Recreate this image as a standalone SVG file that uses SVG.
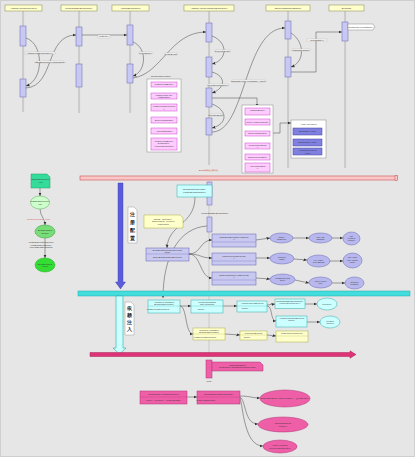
<svg xmlns="http://www.w3.org/2000/svg" width="415" height="457" viewBox="0 0 415 457">
<defs>
<style>
text{font-family:"Liberation Sans",Arial,sans-serif;font-size:2.2px;fill:#333;text-anchor:middle}
.hdr{fill:#ffffcc;stroke:#999966;stroke-width:0.6}
.ll{stroke:#a0a0a0;stroke-width:0.4;fill:none}
.act{fill:#c8c8f4;stroke:#6666aa;stroke-width:0.5}
.cn{fill:none;stroke:#444;stroke-width:0.5;marker-end:url(#ah)}
.lb{fill:#f8f8f8;stroke:#aaa;stroke-width:0.3}
.cont{fill:#fff;stroke:#888;stroke-width:0.5}
.pk{fill:#ffccff;stroke:#cc44cc;stroke-width:0.5}
.bl{fill:#8080e0;stroke:#4040a0;stroke-width:0.5}
.lil{fill:#c8c8f0;stroke:#6060b0;stroke-width:0.5}
.ell{fill:#b8b8ee;stroke:#6464b4;stroke-width:0.5}
.cy{fill:#ccffff;stroke:#33aaaa;stroke-width:0.5}
.yl{fill:#ffffcc;stroke:#aaaa44;stroke-width:0.5}
.mg{fill:#ee5fa8;stroke:#b03070;stroke-width:0.5}
.note{fill:#fff;stroke:#999;stroke-width:0.5}
.vt{font-size:5px;fill:#222;font-weight:bold}
</style>
<marker id="ah" markerWidth="4" markerHeight="4" refX="3.5" refY="2" orient="auto" markerUnits="userSpaceOnUse"><path d="M0,0.5 L3.5,2 L0,3.5 Z" fill="#333"/></marker>
</defs>
<rect x="0" y="0" width="415" height="457" fill="#e6e6e6"/>
<rect x="0.5" y="0.5" width="414" height="456" fill="none" stroke="#cfcfcf" stroke-width="1"/>

<!-- lifelines -->
<g id="lifelines">
<path class="ll" d="M22.6,11V112M23.6,11V112M78.6,11V113M79.6,11V113M129.6,11V113M130.6,11V113M208.6,11V165M209.6,11V165M287.6,11V168M288.6,11V168M344.6,11V168M345.6,11V168"/>
<path class="ll" d="M209,181V353"/>
</g>

<g id="h1"><rect class="hdr" x="5" y="5" width="37" height="6"/><text x="23.5" y="8.8">AbstractApplicationContext</text></g>
<g id="h2"><rect class="hdr" x="61" y="5" width="36" height="6"/><text x="79" y="8.8">DefaultListableBeanFactory</text></g>
<g id="h3"><rect class="hdr" x="112" y="5" width="37" height="6"/><text x="130.5" y="8.8">AbstractBeanFactory</text></g>
<g id="h4"><rect class="hdr" x="184" y="5" width="50" height="6"/><text x="209" y="8.8">AbstractAutowireCapableBeanFactory</text></g>
<g id="h5"><rect class="hdr" x="266" y="5" width="44" height="6"/><text x="288" y="8.8">SimpleInstantiationStrategy</text></g>
<g id="h6"><rect class="hdr" x="329" y="5" width="35" height="6"/><text x="346.5" y="8.8">BeanUtils</text></g>

<g id="activations">
<rect class="act" x="20" y="26" width="6" height="20"/>
<rect class="act" x="20" y="79" width="6" height="18"/>
<rect class="act" x="76" y="27" width="6" height="19"/>
<rect class="act" x="76" y="64" width="6" height="23"/>
<rect class="act" x="127" y="25" width="6" height="20"/>
<rect class="act" x="127" y="64" width="6" height="19"/>
<rect class="act" x="206" y="23" width="6" height="19"/>
<rect class="act" x="206" y="57" width="6" height="20"/>
<rect class="act" x="206" y="88" width="6" height="19"/>
<rect class="act" x="206" y="118" width="6" height="17"/>
<rect class="act" x="285" y="21" width="6" height="18"/>
<rect class="act" x="285" y="57" width="6" height="20"/>
<rect class="act" x="342" y="22" width="6" height="19"/>
<rect class="act" x="207" y="182" width="5" height="23"/>
<rect class="act" x="207" y="217" width="5" height="15"/>
</g>

<g id="connectors">
<path class="cn" d="M26,38 C44,44 44,80 26,86"/>
<path class="cn" d="M26,88 C55,86 45,35 76,35"/>
<path class="cn" d="M82,35 L127,35"/>
<path class="cn" d="M133,42 C148,48 146,72 133,76"/>
<path class="cn" d="M133,78 C162,74 170,32 206,32"/>
<path class="cn" d="M212,36 C228,42 228,60 212,64"/>
<path class="cn" d="M212,72 C226,76 226,88 212,93"/>
<path class="cn" d="M212,104 C228,110 228,124 212,128"/>
<path class="cn" d="M212,132 C246,132 244,28 285,28"/>
<path class="cn" d="M212,98 L257,98 L257,107"/>
<path class="cn" d="M291,33 C305,42 305,62 291,67"/>
<path class="cn" d="M291,72 L316,72 L316,32 L342,32"/>
<path class="cn" d="M273,133 L280,133 L280,123 L291,123"/>
<path class="cn" d="M40,188 L40,196"/>
<path class="cn" d="M40,209 C40,216 45,218 45,225"/>
<path class="cn" d="M45,238 L45,258"/>
<path class="cn" d="M195,197 C195,225 168,224 167,248"/>
<path class="cn" d="M207,226 C178,228 163,258 163,298"/>
<path class="cn" d="M189,254 C201,254 200,240 212,240"/>
<path class="cn" d="M189,254 C201,254 200,258 212,258"/>
<path class="cn" d="M189,254 C201,254 200,278 212,278"/>
<path class="cn" d="M256,240 L270,238"/>
<path class="cn" d="M293,238 L309,238"/>
<path class="cn" d="M332,238 L343,238"/>
<path class="cn" d="M256,258 L270,258"/>
<path class="cn" d="M294,259 L307,260"/>
<path class="cn" d="M330,261 L343,261"/>
<path class="cn" d="M256,278 L270,279"/>
<path class="cn" d="M295,280 L309,283"/>
<path class="cn" d="M332,283 L345,283"/>
<path class="cn" d="M180,306 L191,306"/>
<path class="cn" d="M180,306 C187,306 185,334 193,334"/>
<path class="cn" d="M223,306 L237,306"/>
<path class="cn" d="M225,334 L240,335"/>
<path class="cn" d="M267,305 L275,304"/>
<path class="cn" d="M267,306 C273,306 270,321 276,321"/>
<path class="cn" d="M305,304 L317,304"/>
<path class="cn" d="M307,322 L320,322"/>
<path class="cn" d="M267,335 L276,336"/>
<path class="cn" d="M187,397 L197,397"/>
<path class="cn" d="M240,396 C250,396 252,398 260,398"/>
<path class="cn" d="M240,397 C246,400 244,424 258,424"/>
<path class="cn" d="M240,398 C243,406 244,446 263,446"/>
</g>

<g id="labels">
<rect class="lb" x="25" y="52" width="30" height="2"/><text x="40" y="53.6">obtainFreshBeanFactory()</text>
<rect class="lb" x="37" y="61" width="26" height="2"/><text x="50" y="62.6">finishBeanFactoryInitialization()</text>
<rect class="lb" x="98" y="35" width="12" height="3"/><text x="104" y="37.2">getBean()</text>
<rect class="lb" x="139" y="52" width="13" height="2"/><text x="145.5" y="53.6">doGetBean()</text>
<rect class="lb" x="165" y="53" width="12" height="2"/><text x="171" y="54.6">createBean()</text>
<rect class="lb" x="215" y="50" width="15" height="2"/><text x="222.5" y="51.6">doCreateBean()</text>
<rect class="lb" x="208" y="84" width="20" height="2"/><text x="218" y="85.6">createBeanInstance()</text>
<rect class="lb" x="210" y="114" width="12" height="2"/><text x="216" y="115.6">populateBean()</text>
<rect class="lb" x="232" y="80" width="33" height="2"/><text x="248.5" y="81.6">instantiate(mbd, beanName, owner)</text>
<rect class="lb" x="292" y="49" width="18" height="2"/><text x="301" y="50.6">instantiateClass()</text>
<rect class="lb" x="307" y="39" width="20" height="2"/><text x="317" y="40.6">newInstance()</text>
</g>

<g id="ret"><path d="M348,24 L373,24 L375,27 L373,30 L348,30 Z" fill="#fff" stroke="#888" stroke-width="0.5"/><text x="361" y="27.8">Constructor.newInstance()</text></g>

<g id="boxA">
<text x="161" y="77">BeanPostProcessor</text>
<rect class="cont" x="147" y="79" width="34" height="73"/>
<rect class="pk" x="151" y="82" width="26" height="5"/><text x="164" y="85.3">postProcessBefore</text>
<rect class="pk" x="151" y="93" width="26" height="6"/><text x="164" y="95.6">postProcessAfter</text><text x="164" y="98">Instantiation</text>
<rect class="pk" x="151" y="104" width="26" height="7"/><text x="164" y="107">postProcessProperties</text><text x="164" y="109.5">()</text>
<rect class="pk" x="151" y="117" width="26" height="6"/><text x="164" y="120.8">BeforeInitialization</text>
<rect class="pk" x="151" y="128" width="26" height="6"/><text x="164" y="131.8">AfterInitialization</text>
<rect class="pk" x="151" y="138" width="26" height="12"/><text x="164" y="141.5">postProcessBefore</text><text x="164" y="144.2">Destruction ·</text><text x="164" y="146.9">requiresDestruction</text>
</g>

<g id="boxB">
<rect class="cont" x="242" y="105" width="31" height="68"/>
<rect class="pk" x="245" y="108" width="25" height="7"/><text x="257.5" y="111">initializeBean()</text><text x="257.5" y="113.5">·</text>
<rect class="pk" x="245" y="119" width="25" height="6"/><text x="257.5" y="122.8">invokeAwareMethods()</text>
<rect class="pk" x="245" y="131" width="25" height="5"/><text x="257.5" y="134.3">BeforeInitialization</text>
<rect class="pk" x="245" y="143" width="25" height="6"/><text x="257.5" y="145.6">invokeInitMethods</text><text x="257.5" y="148">()</text>
<rect class="pk" x="245" y="154" width="25" height="6"/><text x="257.5" y="157.8">afterPropertiesSet()</text>
<rect class="pk" x="245" y="163" width="25" height="9"/><text x="257.5" y="166.5">AfterInitialization</text><text x="257.5" y="169.2">()</text>
</g>

<g id="boxC">
<rect class="cont" x="291" y="120" width="35" height="38"/>
<text x="308.5" y="124.5">Aware interfaces</text>
<rect class="bl" x="293" y="128" width="29" height="7"/><text x="307.5" y="132.3">BeanNameAware</text>
<rect class="bl" x="293" y="139" width="29" height="7"/><text x="307.5" y="143.3">BeanFactoryAware</text>
<rect class="bl" x="293" y="148" width="29" height="7"/><text x="307.5" y="151">ApplicationContext</text><text x="307.5" y="153.5">Aware</text>
</g>

<g id="redband">
<rect x="80" y="176" width="317" height="4" fill="#f8c8c8" stroke="#d05050" stroke-width="0.6"/>
<rect x="395" y="175.5" width="2.5" height="5" fill="#f8c8c8" stroke="#d05050" stroke-width="0.5"/>
<text x="208.5" y="171" style="fill:#d03030">Bean实例化与初始化</text>
</g>

<g id="greenflow">
<path d="M31,174 L47,174 L50,177 L50,188 L31,188 Z" fill="#33dd99" stroke="#229966" stroke-width="0.5"/>
<text x="40.5" y="180">applicationContext</text><text x="40.5" y="182.6">.xml</text>
<ellipse cx="40" cy="202.5" rx="9.5" ry="6.5" fill="#ccffcc" stroke="#55aa55" stroke-width="0.5"/>
<text x="40" y="202">ClassPathResource</text><text x="40" y="204.6">xml</text>
<text x="38.5" y="219.6" style="fill:#e04040">ResourceLoader · load</text>
<ellipse cx="45" cy="231.5" rx="10" ry="6.5" fill="#77dd77" stroke="#339933" stroke-width="0.5"/>
<text x="45" y="231">BeanDefinition</text><text x="45" y="233.6">Reader</text>
<text x="41" y="243">XmlBeanDefinitionReader</text>
<text x="41" y="245.6">loadBeanDefinitions()</text>
<text x="41" y="248.2">· doLoadBeanDefinitions ·</text>
<ellipse cx="45" cy="265" rx="10" ry="7" fill="#33dd33" stroke="#22aa22" stroke-width="0.5"/>
<text x="45" y="264.5">BeanDefinition</text><text x="45" y="267.1">Holder</text>
</g>

<g id="bluearrow">
<path d="M118,183 L123,183 L123,282 L125.5,282 L120.5,289 L115.5,282 L118,282 Z" fill="#5b5bdd" stroke="#3a3aa0" stroke-width="0.4"/>
</g>
<g id="note1">
<path class="note" d="M128,207 L134,207 L137,210 L137,243 L128,243 Z"/>
<text class="vt" x="132.5" y="216">注</text><text class="vt" x="132.5" y="224">册</text><text class="vt" x="132.5" y="232">配</text><text class="vt" x="132.5" y="240">置</text>
</g>

<g id="regbox"><rect class="cy" x="177" y="185" width="35" height="12"/><text x="194.5" y="190">BeanDefinitionRegistry</text><text x="194.5" y="192.6">registerBeanDefinition()</text></g>
<text x="215" y="213.5">DefaultListableBeanFactory</text>
<g id="ynote"><path class="yl" d="M144,215 L180,215 L183,218 L183,228 L144,228 Z"/><text x="163.5" y="219.5">Spring · Resource ·</text><text x="163.5" y="222.2">Environment · Property</text><text x="163.5" y="224.9">Placeholder</text></g>

<g id="boxD"><rect class="lil" x="146" y="248" width="43" height="13"/><line x1="146" y1="254" x2="189" y2="254" stroke="#6060b0" stroke-width="0.3"/><text x="167.5" y="251">BeanDefinitionParserDelegate</text><text x="167.5" y="253.3">parse</text><text x="167.5" y="257.5">parseBeanDefinitionElement()</text></g>
<g id="d1"><rect class="lil" x="212" y="234" width="44" height="13"/><text x="234" y="237.5">parseBeanDefinitionAttributes</text><text x="234" y="240">()</text><line x1="212" y1="242" x2="256" y2="242" stroke="#6060b0" stroke-width="0.3"/></g>
<g id="d2"><rect class="lil" x="212" y="253" width="44" height="12"/><text x="234" y="256.5">parsePropertyElements</text><text x="234" y="259">()</text><line x1="212" y1="261" x2="256" y2="261" stroke="#6060b0" stroke-width="0.3"/></g>
<g id="d3"><rect class="lil" x="212" y="272" width="44" height="13"/><text x="234" y="275.5">parseConstructorArgElements</text><text x="234" y="278">()</text><line x1="212" y1="280" x2="256" y2="280" stroke="#6060b0" stroke-width="0.3"/></g>

<g id="e11"><ellipse class="ell" cx="281.5" cy="238" rx="11.5" ry="5"/><text x="281.5" y="237.6">scope</text><text x="281.5" y="240">singleton</text></g>
<g id="e12"><ellipse class="ell" cx="320.5" cy="238" rx="11.5" ry="5"/><text x="320.5" y="237.6">lazy-init</text><text x="320.5" y="240">abstract</text></g>
<g id="e13"><ellipse class="ell" cx="351.5" cy="238.5" rx="8.5" ry="6.5"/><text x="351.5" y="236.6">init-</text><text x="351.5" y="239">method</text><text x="351.5" y="241.4">destroy</text></g>
<g id="e21"><ellipse class="ell" cx="282" cy="258.5" rx="12" ry="5.5"/><text x="282" y="258">property</text><text x="282" y="260.4">name</text></g>
<g id="e22"><ellipse class="ell" cx="318.5" cy="261" rx="11.5" ry="6"/><text x="318.5" y="260.5">ref / value</text><text x="318.5" y="262.9">TypedString</text></g>
<g id="e23"><ellipse class="ell" cx="352.5" cy="260.5" rx="9.5" ry="7.5"/><text x="352.5" y="258.2">list / map</text><text x="352.5" y="260.6">set / props</text><text x="352.5" y="263">array</text></g>
<g id="e31"><ellipse class="ell" cx="282.5" cy="279.5" rx="12.5" ry="5.5"/><text x="282.5" y="279">constructor-arg</text><text x="282.5" y="281.4">index</text></g>
<g id="e32"><ellipse class="ell" cx="320.5" cy="282.5" rx="11.5" ry="5.5"/><text x="320.5" y="282">ValueHolder</text><text x="320.5" y="284.4">type</text></g>
<g id="e33"><ellipse class="ell" cx="354.5" cy="283" rx="9.5" ry="6"/><text x="354.5" y="282.5">autowire</text><text x="354.5" y="284.9">byName</text></g>

<g id="cyanband"><rect x="78" y="291" width="332" height="5" fill="#44dddd" stroke="#22aaaa" stroke-width="0.5"/></g>
<g id="cyanarrow"><path d="M116,296 L123,296 L123,348 L126,348 L119.5,354 L113,348 L116,348 Z" fill="#ccffff" stroke="#33aaaa" stroke-width="0.6"/></g>
<g id="note2">
<path class="note" d="M125,302 L131,302 L134,305 L134,335 L125,335 Z"/>
<text class="vt" x="129.5" y="310">依</text><text class="vt" x="129.5" y="317">赖</text><text class="vt" x="129.5" y="324">注</text><text class="vt" x="129.5" y="331">入</text>
</g>

<g id="boxE"><rect class="cy" x="148" y="300" width="32" height="13"/><line x1="148" y1="306" x2="180" y2="306" stroke="#33aaaa" stroke-width="0.3"/><text x="164" y="302.8">AutowiredAnnotation</text><text x="164" y="305.2">BeanPostProcessor</text><text x="158" y="309.5">postProcessProperties</text></g>
<g id="boxF"><rect class="cy" x="191" y="300" width="32" height="13"/><line x1="191" y1="306" x2="223" y2="306" stroke="#33aaaa" stroke-width="0.3"/><text x="207" y="303">InjectionMetadata</text><text x="207" y="305.3">findAutowiring</text><text x="201" y="309.5">inject()</text></g>
<g id="boxG"><rect class="yl" x="193" y="328" width="32" height="12"/><line x1="193" y1="334" x2="225" y2="334" stroke="#aaaa44" stroke-width="0.3"/><text x="209" y="331">CommonAnnotation</text><text x="209" y="333.3">BeanPostProcessor</text><text x="205" y="337.5">postProcessProperties</text></g>
<g id="boxH"><rect class="cy" x="237" y="301" width="30" height="11"/><line x1="237" y1="306" x2="267" y2="306" stroke="#33aaaa" stroke-width="0.3"/><text x="252" y="303.6">AutowiredFieldElement</text><text x="245" y="309">inject()</text></g>
<g id="boxI"><rect class="cy" x="275" y="299" width="30" height="9.5"/><text x="290" y="302">DefaultListableBeanFactory</text><text x="290" y="304.3">resolveDependency()</text><text x="280" y="307">...</text></g>
<g id="boxJ"><rect class="cy" x="276" y="316" width="31" height="11"/><text x="291.5" y="319">AutowiredMethodElement</text><text x="291.5" y="321.4">inject()</text><text x="281" y="325.5">...</text></g>
<g id="ellI"><ellipse class="cy" cx="327" cy="304" rx="10" ry="6"/><text x="327" y="304.8">field.set()</text></g>
<g id="ellJ"><ellipse class="cy" cx="330" cy="322" rx="10" ry="6"/><text x="330" y="321.5">method</text><text x="330" y="323.9">.invoke()</text></g>
<g id="boxK"><rect class="yl" x="240" y="331" width="27" height="9"/><line x1="240" y1="335" x2="267" y2="335" stroke="#aaaa44" stroke-width="0.3"/><text x="253.5" y="333.5">ResourceElement</text><text x="247" y="338">inject()</text></g>
<g id="boxL"><rect class="yl" x="276" y="331" width="32" height="11"/><line x1="276" y1="336" x2="308" y2="336" stroke="#aaaa44" stroke-width="0.3"/><text x="292" y="334">getResourceToInject()</text><text x="282" y="339">...</text></g>

<g id="magband"><path d="M90,352.5 L350,352.5 L350,350.8 L356,354.5 L350,358.2 L350,356.5 L90,356.5 Z" fill="#dd3377" stroke="#aa2255" stroke-width="0.5"/></g>

<g id="destroyHead">
<rect class="mg" x="206" y="360" width="6" height="18"/>
<path class="mg" d="M212,362 L260,362 L263,365 L263,371 L212,371 Z"/>
<text x="237.5" y="365.5">DisposableBean</text><text x="237.5" y="368.4">DestructionAwareBeanPostProcessor</text>
<text x="209" y="381.5">close</text>
</g>
<g id="boxM"><rect class="mg" x="140" y="391" width="47" height="13"/><line x1="140" y1="397" x2="187" y2="397" stroke="#b03070" stroke-width="0.3"/><text x="163.5" y="394.5">ConfigurableApplicationContext</text><text x="163.5" y="400.5">close() · doClose() · destroyBeans()</text></g>
<g id="boxN"><rect class="mg" x="197" y="391" width="43" height="13"/><line x1="197" y1="397" x2="240" y2="397" stroke="#b03070" stroke-width="0.3"/><text x="218.5" y="394.5">DefaultSingletonBeanRegistry</text><text x="206" y="400.5">destroySingletons()</text></g>
<g id="em1"><ellipse class="mg" cx="285" cy="398.5" rx="25" ry="8.5"/><text x="285" y="399.3">DisposableBeanAdapter.destroy() · @PreDestroy</text></g>
<g id="em2"><ellipse class="mg" cx="283" cy="424.5" rx="25" ry="7.5"/><text x="283" y="424">DisposableBean</text><text x="283" y="426.6">destroy()</text></g>
<g id="em3"><ellipse class="mg" cx="280" cy="446.5" rx="17" ry="6.5"/><text x="280" y="446">destroy-method</text><text x="280" y="448.6">invokeCustomDestroy</text></g>
</svg>
